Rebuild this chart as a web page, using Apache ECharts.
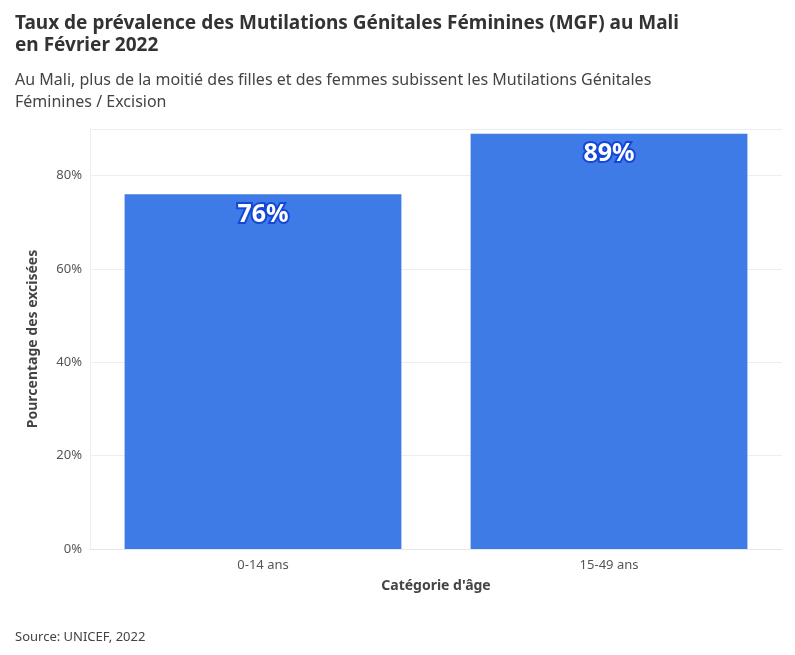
<!DOCTYPE html>
<html><head><meta charset="utf-8">
<script src="https://cdn.jsdelivr.net/npm/echarts@6/dist/echarts.min.js"></script>
<style>html,body{margin:0;padding:0;background:#fff}#c{width:795px;height:655px}</style>
</head><body><div id="c"></div>
<script>
const categories = ["0-14 ans", "15-49 ans"];
const values = [76, 89];
const yTicks = [0, 20, 40, 60, 80];
const F = "Noto Sans";
const chart = echarts.init(document.getElementById('c'));
chart.setOption({
  animation: false,
  textStyle: { fontFamily: F },
  title: [
    { text: "Taux de prévalence des Mutilations Génitales Féminines (MGF) au Mali\nen Février 2022", left: 10, top: 8,
      textStyle: { fontFamily: F, fontSize: 19, fontWeight: 'bold', color: '#333', lineHeight: 22 } },
    { text: "Au Mali, plus de la moitié des filles et des femmes subissent les Mutilations Génitales\nFéminines / Excision", left: 10, top: 64,
      textStyle: { fontFamily: F, fontSize: 16, fontWeight: 'normal', color: '#444', lineHeight: 22 } },
    { text: "Source: UNICEF, 2022", left: 10, top: 626, textStyle: { fontFamily: F, fontSize: 13, fontWeight: 'normal', color: '#444' } }
  ],
  grid: { left: 90, right: 13, top: 129, bottom: 106 },
  xAxis: {
    type: 'category', data: categories,
    name: "Catégorie d'âge", nameLocation: 'middle', nameGap: 30,
    nameTextStyle: { fontFamily: F, fontSize: 14, fontWeight: 'bold', color: '#444' },
    axisLine: { show: true, lineStyle: { color: '#e6e6e6' } },
    axisTick: { show: false },
    axisLabel: { fontFamily: F, fontSize: 13, color: '#555', margin: 10 },
    splitLine: { show: false }
  },
  yAxis: {
    type: 'value', min: 0, max: 90, interval: 20,
    name: "Pourcentage des excisées", nameLocation: 'middle', nameGap: 50,
    nameTextStyle: { fontFamily: F, fontSize: 14, fontWeight: 'bold', color: '#444' },
    axisLine: { show: true, lineStyle: { color: '#eeeeee' } },
    axisTick: { show: false },
    axisLabel: { fontFamily: F, fontSize: 13, color: '#555',
      formatter: v => yTicks.includes(v) ? v + '%' : '' },
    splitLine: { lineStyle: { color: '#eeeeee' } }
  },
  series: [{
    type: 'bar', data: values, barWidth: '80%',
    itemStyle: { color: '#3e7be6' },
    label: { show: true, position: 'insideTop', distance: 8, formatter: '{c}%',
      fontFamily: F, fontSize: 25, fontWeight: 'bold', color: '#fff',
      textBorderColor: '#1447d9', textBorderWidth: 4 }
  }]
});
</script></body></html>
